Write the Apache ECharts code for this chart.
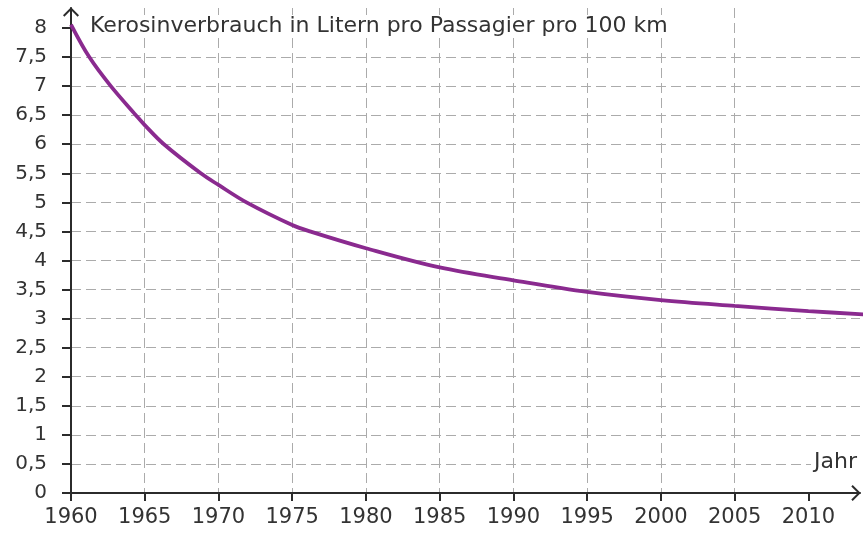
<!DOCTYPE html>
<html><head><meta charset="utf-8">
<script src="https://cdn.jsdelivr.net/npm/echarts@6/dist/echarts.min.js"></script>
<style>html,body{margin:0;padding:0;background:#fff}#c{width:863px;height:537px}</style>
</head><body><div id="c"></div>
<script>
// ---- data ----
const years = [1960, 1961.24, 1962.7, 1964.4, 1965, 1966.3, 1968.8, 1970, 1971.9, 1975, 1976.2, 1980, 1985, 1990, 1995, 2000, 2005, 2010, 2014];
const kerosene = [8.06, 7.5, 7.0, 6.5, 6.33, 6.0, 5.5, 5.30, 5.0, 4.61, 4.5, 4.21, 3.88, 3.66, 3.46, 3.32, 3.22, 3.13, 3.07];
const xTicks = [1960,1965,1970,1975,1980,1985,1990,1995,2000,2005,2010];
const yTicks = [0,0.5,1,1.5,2,2.5,3,3.5,4,4.5,5,5.5,6,6.5,7,7.5,8];
const yTickLabels = ['0','0,5','1','1,5','2','2,5','3','3,5','4','4,5','5','5,5','6','6,5','7','7,5','8'];
const titleText = 'Kerosinverbrauch in Litern pro Passagier pro 100 km';
const xAxisName = 'Jahr';

// ---- chart ----
const FONT = '"DejaVu Sans", sans-serif';
const TXT = '#333333';
const AXIS = '#2b2b2b';
const GRIDC = '#ababab';
const arrowPath = 'path://M0,8 L8,0 L16,8 L14.6,9.4 L8,2.8 L1.4,9.4 Z';

const chart = echarts.init(document.getElementById('c'), null, {renderer: 'canvas'});
chart.setOption({
  animation: false,
  backgroundColor: '#fff',
  grid: {left: 71, width: 789, top: 8, height: 485, containLabel: false, outerBoundsMode: 'none'},
  xAxis: {
    type: 'value', min: 1960, max: 2013.5, interval: 5,
    axisLine: {show: true, lineStyle: {color: AXIS, width: 2}, symbol: ['none', arrowPath], symbolSize: [16, 9.4], symbolOffset: [0, -4]},
    axisTick: {show: true, length: 8, lineStyle: {color: AXIS, width: 2}, customValues: xTicks},
    axisLabel: {show: true, customValues: xTicks, margin: 14, color: TXT, fontSize: 21, fontFamily: FONT, formatter: v => String(v)},
    splitLine: {show: true, showMinLine: false, showMaxLine: false, lineStyle: {color: GRIDC, width: 1, type: [10, 5]}}
  },
  yAxis: {
    type: 'value', min: 0, max: 8.344, interval: 0.5,
    axisLine: {show: true, lineStyle: {color: AXIS, width: 2}, symbol: ['none', arrowPath], symbolSize: [16, 9.4], symbolOffset: [0, -4]},
    axisTick: {show: true, length: 9, lineStyle: {color: AXIS, width: 2}, customValues: yTicks},
    axisLabel: {show: true, customValues: yTicks, margin: 24, color: TXT, fontSize: 20, fontFamily: FONT,
      formatter: v => { const i = yTicks.indexOf(v); return i >= 0 ? yTickLabels[i] : ''; }},
    splitLine: {show: true, showMinLine: false, showMaxLine: false, lineStyle: {color: GRIDC, width: 1, type: [10, 5]}}
  },
  graphic: [
    {type: 'text', left: 86, top: 15, z: 100, style: {text: titleText, fill: TXT, font: '22px ' + FONT, backgroundColor: '#fff', padding: [0, 4]}},
    {type: 'text', right: 3, top: 451, z: 100, style: {text: xAxisName, fill: TXT, font: '22px ' + FONT, backgroundColor: '#fff', padding: [0, 3]}}
  ],
  series: [{
    type: 'line', data: years.map((y, i) => [y, kerosene[i]]),
    smooth: 0.35, showSymbol: false, clip: false,
    lineStyle: {color: '#8a2a8f', width: 3.8}
  }]
});
</script></body></html>
